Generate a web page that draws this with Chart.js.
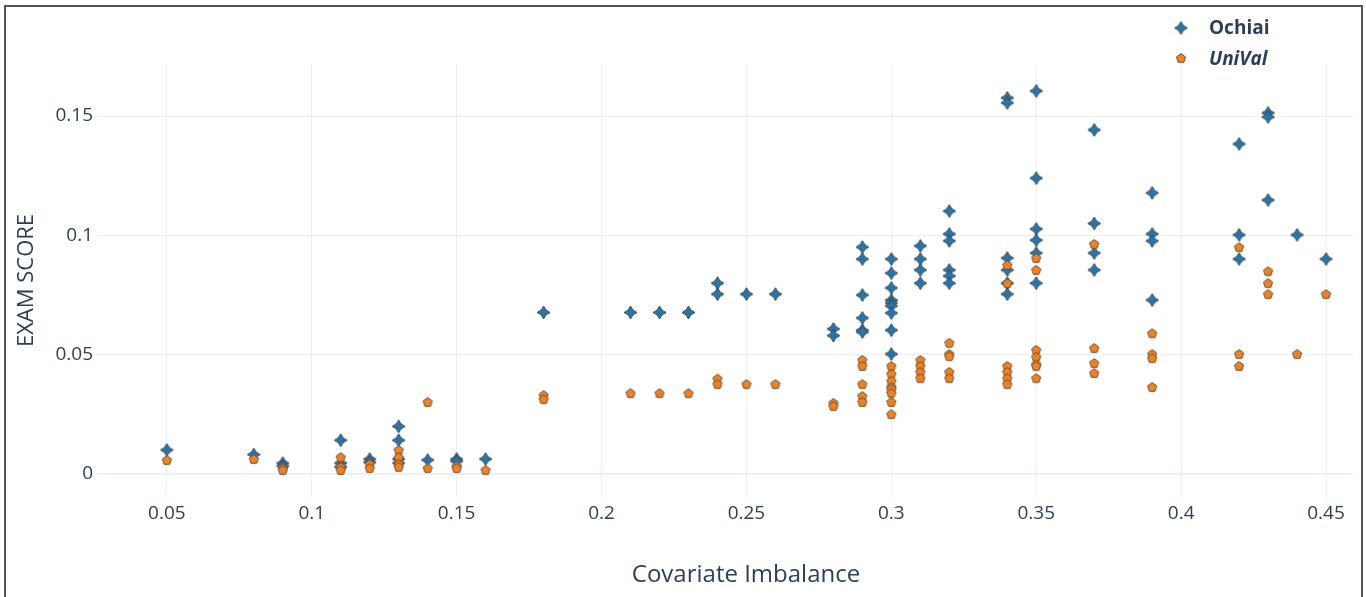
<!DOCTYPE html>
<html>
<head>
<meta charset="utf-8">
<script src="https://cdn.jsdelivr.net/npm/chart.js@4/dist/chart.umd.min.js"></script>
<style>
  html, body { margin: 0; padding: 0; background: #fff; overflow: hidden; }
  #wrap { position: absolute; left: 0; top: 0; width: 1366px; height: 597px; }
  #frame { position: absolute; left: 4px; top: 5px; width: 1355px; height: 610px;
           border: 2px solid #555; border-bottom: none; pointer-events: none; }
</style>
</head>
<body>
<div id="wrap"><canvas id="grafica"></canvas></div>
<div id="frame"></div>
<script>
// covariate imbalance of each program group
const desbalance = [0.05, 0.08, 0.09, 0.11, 0.12, 0.13, 0.14, 0.15, 0.16, 0.18, 0.21, 0.22, 0.23,
  0.24, 0.25, 0.26, 0.28, 0.29, 0.3, 0.31, 0.32, 0.34, 0.35, 0.37, 0.39, 0.42, 0.43, 0.44, 0.45];

// EXAM scores per group (same order as desbalance)
const ochiai = [
  [0.0101], [0.0082], [0.0046, 0.0034], [0.0142, 0.0046, 0.003], [0.0063, 0.005],
  [0.020, 0.0142, 0.0063, 0.0046], [0.0059], [0.0063, 0.0054], [0.0063], [0.0677],
  [0.0677], [0.0677], [0.0677], [0.080, 0.0754], [0.0754], [0.0754], [0.0608, 0.058],
  [0.0951, 0.0901, 0.075, 0.0654, 0.0603, 0.0595],
  [0.0901, 0.0842, 0.078, 0.0729, 0.0717, 0.0704, 0.0675, 0.0603, 0.0503],
  [0.0956, 0.0901, 0.0855, 0.080],
  [0.1102, 0.1006, 0.0977, 0.0855, 0.083, 0.080],
  [0.1576, 0.1555, 0.0905, 0.0855, 0.080, 0.0754],
  [0.1605, 0.124, 0.1027, 0.098, 0.0926, 0.080],
  [0.1442, 0.105, 0.0926, 0.0855],
  [0.1178, 0.1006, 0.0977, 0.0729],
  [0.1383, 0.1002, 0.0901],
  [0.1513, 0.1496, 0.1148],
  [0.1002], [0.0901]
];
const unival = [
  [0.0059], [0.0063], [0.0025, 0.0017], [0.0071, 0.003, 0.0017], [0.0042, 0.0025],
  [0.0101, 0.0071, 0.0042, 0.003], [0.0302, 0.0025], [0.0034, 0.0025], [0.0017],
  [0.0331, 0.0314], [0.0339], [0.0339], [0.0339], [0.040, 0.0377], [0.0377], [0.0377],
  [0.0298, 0.0285],
  [0.0478, 0.0453, 0.0377, 0.0327, 0.0302],
  [0.0453, 0.042, 0.039, 0.0365, 0.0356, 0.034, 0.0302, 0.0251],
  [0.0478, 0.0453, 0.0428, 0.0402],
  [0.055, 0.0503, 0.0494, 0.0428, 0.0402],
  [0.0876, 0.080, 0.0453, 0.0428, 0.0402, 0.0377],
  [0.0905, 0.0855, 0.052, 0.049, 0.046, 0.0453, 0.0402],
  [0.0964, 0.0528, 0.0465, 0.0423],
  [0.059, 0.0503, 0.0486, 0.0365],
  [0.0951, 0.0503, 0.0453],
  [0.085, 0.080, 0.0754],
  [0.0503], [0.0754]
];

const ticksX = [0.05, 0.1, 0.15, 0.2, 0.25, 0.3, 0.35, 0.4, 0.45];
const ticksY = [0, 0.05, 0.1, 0.15];

const colorTexto = "#2a3f5f";
const colorGrid = "#ebf0f8";

function puntos(series) {
  const out = [];
  desbalance.forEach((x, i) => series[i].forEach(y => out.push({ x: x, y: y })));
  return out;
}

// marker images (plotly-like star-diamond and pentagon)
function marcaDiamante() {
  const c = document.createElement("canvas");
  c.width = 15; c.height = 15;
  const g = c.getContext("2d");
  const m = 7.5, r = 6.5, k = 1.6;
  g.beginPath();
  g.moveTo(m, m - r);
  g.quadraticCurveTo(m + k, m - k, m + r, m);
  g.quadraticCurveTo(m + k, m + k, m, m + r);
  g.quadraticCurveTo(m - k, m + k, m - r, m);
  g.quadraticCurveTo(m - k, m - k, m, m - r);
  g.closePath();
  g.fillStyle = "#1f77b4";
  g.fill();
  g.lineWidth = 1;
  g.strokeStyle = "#444";
  g.stroke();
  return c;
}
function marcaPentagono() {
  const c = document.createElement("canvas");
  c.width = 12; c.height = 12;
  const g = c.getContext("2d");
  const m = 6, r = 4.8;
  g.beginPath();
  for (let i = 0; i < 5; i++) {
    const a = -Math.PI / 2 + i * 2 * Math.PI / 5;
    const px = m + r * Math.cos(a), py = m + 0.4 + r * Math.sin(a);
    if (i === 0) g.moveTo(px, py); else g.lineTo(px, py);
  }
  g.closePath();
  g.fillStyle = "#ff7f0e";
  g.fill();
  g.lineWidth = 1;
  g.strokeStyle = "#555";
  g.stroke();
  return c;
}
const imgOchiai = marcaDiamante();
const imgUnival = marcaPentagono();

// legend + x title drawn by hand (own font styles / offset like the original)
const textos = {
  id: "textos",
  afterDraw(chart) {
    const ctx = chart.ctx;
    ctx.save();
    ctx.fillStyle = colorTexto;
    ctx.textBaseline = "middle";
    ctx.drawImage(imgOchiai, 1181 - 7.5, 28 - 7.5);
    ctx.font = "bold 19px 'Open Sans'";
    ctx.fillText("Ochiai", 1209, 29);
    ctx.drawImage(imgUnival, 1181 - 6, 58 - 6);
    ctx.font = "italic bold 19px 'Open Sans'";
    ctx.fillText("UniVal", 1209, 60);
    ctx.textAlign = "center";
    ctx.font = "24px 'Open Sans'";
    ctx.fillText("Covariate Imbalance", 746, 575);
    ctx.restore();
  }
};

new Chart(document.getElementById("grafica"), {
  type: "scatter",
  data: {
    datasets: [{
      label: "Ochiai",
      data: puntos(ochiai),
      pointStyle: imgOchiai,
      order: 1
    }, {
      label: "UniVal",
      data: puntos(unival),
      pointStyle: imgUnival,
      order: 0
    }]
  },
  options: {
    responsive: true,
    maintainAspectRatio: false,
    animation: false,
    layout: { padding: { top: 64, right: 13, left: 0, bottom: 0 } },
    scales: {
      x: {
        type: "linear",
        min: 0.0259,
        max: 0.4593,
        afterBuildTicks: s => { s.ticks = ticksX.map(v => ({ value: v })); },
        afterFit: s => { s.height = 100; },
        border: { display: false },
        grid: { color: colorGrid, lineWidth: 1, drawTicks: false },
        ticks: {
          color: colorTexto, padding: 5,
          font: { family: "Open Sans", size: 19 },
          callback: v => String(v)
        }
      },
      y: {
        type: "linear",
        min: -0.0096,
        max: 0.1718,
        afterBuildTicks: s => { s.ticks = ticksY.map(v => ({ value: v })); },
        afterFit: s => { s.width = 97; },
        border: { display: false },
        grid: {
          color: colorGrid, drawTicks: false,
          lineWidth: c => (c.tick && c.tick.value === 0 ? 2 : 1)
        },
        ticks: {
          color: colorTexto, padding: 4,
          font: { family: "Open Sans", size: 19 },
          callback: v => String(v)
        },
        title: {
          display: true, text: "EXAM SCORE", color: colorTexto,
          font: { family: "Open Sans", size: 22 },
          padding: { top: 14, bottom: 0 }
        }
      }
    },
    plugins: {
      legend: { display: false },
      tooltip: { enabled: false }
    }
  },
  plugins: [textos]
});
</script>
</body>
</html>
